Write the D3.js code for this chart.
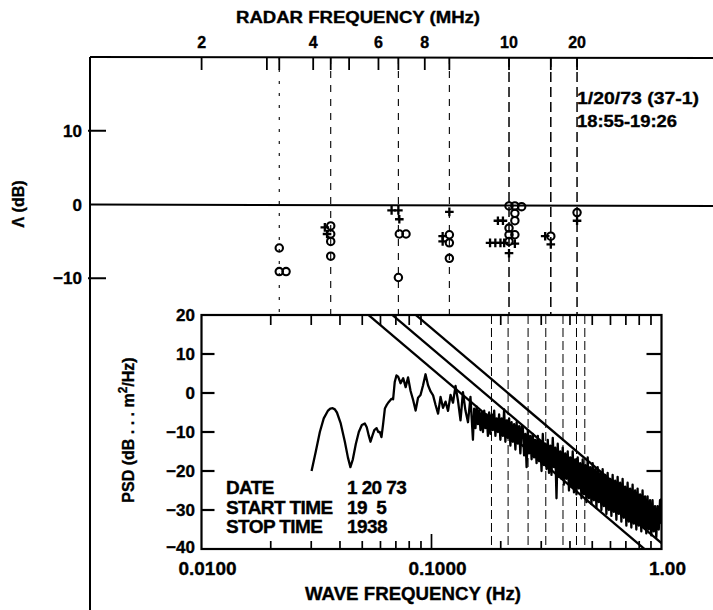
<!DOCTYPE html>
<html><head><meta charset="utf-8">
<script src="https://cdn.jsdelivr.net/npm/d3@7"></script>
<style>
body{margin:0;background:#fff}
svg{display:block}
text{font-family:"Liberation Sans",Arial,Helvetica,sans-serif;font-weight:bold;fill:#000;stroke:#000;stroke-width:0.35px}
</style>
</head><body>
<svg id="c" width="713" height="610"></svg>
<script>
// ---------- data ----------
const radarTickMHz   = [2, 3, 3.24, 4, 4.46, 5, 6, 6.79, 8, 9.32, 13.5, 17.5, 20.6];
const radarLabelMHz  = [2, 4, 6, 8, 13.5, 20.6];
const radarLabelText = ["2", "4", "6", "8", "10", "20"];
const radarLineMHz   = [3.24, 4.46, 6.79, 9.32, 13.5, 17.5, 20.6];
const deltaTicks     = [10, 0, -10];

const circleMHz = [3.24, 3.24, 3.38,  4.46, 4.46, 4.46, 4.46,  6.83, 7.12, 6.79,  9.32, 9.32, 9.32,
                   13.5, 14.0, 14.6, 14.0, 14.0, 13.5, 13.5, 14.0, 13.5,  17.5,  20.6];
const circleDb  = [-5.9, -9.1, -9.1,  -2.9, -4.0, -5.0, -7.0,  -4.0, -4.0, -9.9,  -4.1, -5.2, -7.3,
                   -0.2, -0.2, -0.3, -1.2, -2.2, -3.2, -4.1, -4.1, -5.0,  -4.3,  -1.1];
const plusMHz   = [4.30, 4.36,  6.51, 6.79, 6.83,  9.32, 8.94, 8.94,
                   12.6, 13.0, 12.0, 12.4, 12.8, 13.1, 14.0, 13.5,  16.9, 17.5,  20.6];
const plusDb    = [-3.1, -4.0,  -0.8, -0.8, -2.0,  -1.0, -4.3, -5.0,
                   -2.2, -2.2, -5.2, -5.2, -5.2, -5.2, -5.3, -6.6,  -4.3, -5.4,  -2.2];

const psdTicks      = [20, 10, 0, -10, -20, -30, -40];
const waveMinorHz   = [0.02, 0.03, 0.04, 0.05, 0.06, 0.07, 0.08, 0.09, 0.2, 0.3, 0.4, 0.5, 0.6, 0.7, 0.8, 0.9];
const waveLabelHz   = [0.01, 0.1, 1];
const waveLabelText = ["0.0100", "0.1000", "1.00"];
const waveLineHz    = [0.1823, 0.2153, 0.263, 0.314, 0.373, 0.427, 0.464];
const fitSlopeDbPerDecade = -50;
const fitLevelAt01Hz = [6.3, 11.5, 16.6];

const infoLabels = ["DATE", "START TIME", "STOP TIME"];
const infoValues = ["1 20 73", "19  5", "1938"];

// PSD spectrum [Hz, dB]
const psd = [
 [0.0301,-20],[0.0314,-15],[0.0327,-10],[0.0340,-6.5],[0.0354,-4.6],[0.0363,-4.0],[0.0372,-3.9],[0.0380,-4.2],
 [0.0388,-5.0],[0.0403,-7.8],[0.0420,-12.5],[0.0433,-16.5],[0.0444,-19.0],[0.0455,-17.0],[0.0469,-13.0],
 [0.0483,-10.0],[0.0498,-8.2],[0.0513,-7.8],[0.0523,-8.8],[0.0534,-11.0],[0.0543,-12.5],[0.0553,-11.0],
 [0.0564,-9.5],[0.0577,-9.0],[0.0587,-10.0],[0.0596,-10.0],[0.0606,-11.3],[0.0616,-8.0],[0.0627,-4.0],
 [0.0637,-3.2],[0.0648,-2.5],[0.0659,-2.0],[0.0670,-1.5],[0.0681,-1.6],[0.0692,2.8],[0.0704,4.5],
 [0.0716,4.2],[0.0734,2.5],[0.0753,3.8],[0.0772,1.5],[0.0791,4.0],[0.0811,0.5],[0.0832,-1.8],[0.0853,-4.5],
 [0.0874,-1.2],[0.0896,-0.5],[0.0919,2.0],[0.0942,4.8],[0.0966,2.0],[0.0991,0.4],[0.1016,-0.6],[0.1041,-3.0],
 [0.1068,-5.3],[0.1095,-1.0],[0.1122,-3.8],[0.1151,-2.2],[0.1180,-4.6],[0.1210,-0.5],[0.1240,-2.5],[0.1272,1.8],
 [0.1304,-2.0],[0.1337,-7.0],[0.1370,0.2],[0.1405,-4.5],[0.1441,-7.5],[0.1477,-1.0],
 [0.1514,-12.0],[0.1533,-4.0],[0.1553,-9.0],[0.1572,-3.5],[0.1592,-8.0],[0.1612,-4.5],[0.1632,-9.5],[0.1653,-5.0],
 [0.1674,-10.0],[0.1695,-4.5],[0.1716,-9.0],[0.1737,-5.5],[0.1759,-11.0],[0.1781,-5.0],[0.1804,-10.5],[0.1827,-5.5],
 [0.1850,-9.5],[0.1873,-4.5],[0.1896,-11.0],[0.1920,-6.5],[0.1944,-10.0],[0.1968,-5.5],[0.1993,-12.0],[0.2018,-6.5],
 [0.2044,-11.0],[0.2069,-4.2],[0.2095,-12.5],[0.2122,-7.0],[0.2148,-11.5],[0.2175,-6.5],[0.2203,-13.5],[0.2230,-7.5],
 [0.2258,-12.5],[0.2287,-8.0],[0.2316,-14.5],[0.2345,-7.5],[0.2374,-13.0],[0.2404,-8.5],[0.2434,-15.5],[0.2465,-8.5],
 [0.2496,-9.0],[0.2527,-16.0],[0.2559,-10.5],[0.2591,-19.0],[0.2623,-9.5],[0.2656,-15.5],[0.2690,-11.0],[0.2724,-17.0],
 [0.2758,-10.5],[0.2792,-16.5],[0.2827,-12.0],[0.2863,-18.0],[0.2899,-11.0],[0.2935,-17.5],[0.2972,-12.5],[0.3009,-20.0],
 [0.3047,-10.5],[0.3085,-18.5],[0.3124,-13.0],[0.3163,-19.5],[0.3203,-12.0],[0.3243,-20.5],[0.3284,-13.5],[0.3325,-21.0],
 [0.3367,-11.5],[0.3409,-19.0],[0.3452,-14.0],[0.3495,-27.0],[0.3539,-13.0],[0.3584,-21.5],[0.3629,-15.0],[0.3674,-22.0],
 [0.3720,-14.0],[0.3767,-23.5],[0.3814,-15.5],[0.3862,-22.0],[0.3911,-15.0],[0.3960,-25.0],[0.4010,-16.5],[0.4060,-24.0],
 [0.4111,-15.0],[0.4163,-25.5],[0.4215,-17.0],[0.4268,-26.0],[0.4322,-16.5],[0.4376,-24.5],[0.4431,-18.0],[0.4487,-27.0],
 [0.4543,-17.0],[0.4600,-26.0],[0.4658,-18.5],[0.4717,-28.0],[0.4776,-16.5],[0.4836,-27.0],[0.4897,-19.0],[0.4959,-28.5],
 [0.5021,-18.0],[0.5084,-27.5],[0.5148,-19.5],[0.5213,-29.5],[0.5278,-19.0],[0.5344,-28.0],[0.5411,-20.5],[0.5479,-30.0],
 [0.5548,-19.5],[0.5618,-29.0],[0.5688,-21.0],[0.5760,-31.0],[0.5832,-20.5],[0.5906,-30.0],[0.5980,-22.0],[0.6055,-31.5],
 [0.6131,-21.0],[0.6208,-30.5],[0.6286,-22.5],[0.6365,-32.5],[0.6445,-21.5],[0.6526,-31.0],[0.6608,-23.0],[0.6691,-33.0],
 [0.6775,-22.0],[0.6860,-32.0],[0.6946,-24.0],[0.7034,-34.0],[0.7122,-23.0],[0.7212,-33.0],[0.7302,-24.5],[0.7394,-34.5],
 [0.7487,-23.5],[0.7581,-33.5],[0.7676,-25.0],[0.7773,-35.0],[0.7870,-24.5],[0.7969,-34.0],[0.8069,-26.0],[0.8170,-35.5],
 [0.8273,-25.0],[0.8377,-34.5],[0.8482,-26.5],[0.8589,-36.0],[0.8697,-26.5],[0.8806,-35.0],[0.8917,-27.5],[0.9029,-36.5],
 [0.9142,-27.5],[0.9257,-35.5],[0.9373,-29.0],[0.9491,-37.0],[0.9610,-29.0],[0.9731,-35.0],[0.9853,-27.5],[0.9926,-33.0],
 [1.0,-27.0]
];

// ---------- drawing ----------
const svg = d3.select("#c");

// upper panel scales
const xR = d3.scaleLog().domain([1, 100]).range([90, 831.4]);
const yD = d3.scaleLinear().domain([-20, 20]).range([352, 57]);

// inset scales
const xW = d3.scaleLog().domain([0.01, 1]).range([201.5, 661.5]);
const yP = d3.scaleLinear().domain([-40, 20]).range([549, 315]);

// upper dashed verticals
svg.append("g").selectAll("line").data(radarLineMHz).join("line")
  .attr("x1", d => xR(d)).attr("x2", d => xR(d))
  .attr("y1", yD(20)).attr("y2", yP(20))
  .attr("stroke", "#000")
  .attr("stroke-width", (d, i) => i >= 4 ? 1.5 : 1.1)
  .attr("stroke-dasharray", (d, i) => i === 0 ? "3,9" : (i >= 4 ? "10,5" : "7,7"));

// upper frame: top border, left border, zero line
svg.append("line").attr("x1", xR(1)).attr("x2", 713).attr("y1", yD(20)).attr("y2", yD(20) + 1)
  .attr("stroke", "#000").attr("stroke-width", 2);
svg.append("line").attr("x1", xR(1)).attr("x2", xR(1)).attr("y1", yD(20)).attr("y2", 610)
  .attr("stroke", "#000").attr("stroke-width", 2);
svg.append("line").attr("x1", xR(1)).attr("x2", 713).attr("y1", yD(0)).attr("y2", yD(0) + 1.5)
  .attr("stroke", "#000").attr("stroke-width", 2);

// top axis ticks
svg.append("g").selectAll("line").data(radarTickMHz).join("line")
  .attr("x1", d => xR(d)).attr("x2", d => xR(d))
  .attr("y1", yD(20)).attr("y2", yD(20) + 13)
  .attr("stroke", "#000").attr("stroke-width", 1.8);
svg.append("g").selectAll("text").data(radarLabelMHz).join("text")
  .attr("x", d => xR(d)).attr("y", 48).attr("text-anchor", "middle")
  .style("font-size", "16px").text((d, i) => radarLabelText[i]);
svg.append("text").attr("x", 358).attr("y", 23).attr("text-anchor", "middle")
  .attr("textLength", 244).attr("lengthAdjust", "spacingAndGlyphs")
  .style("font-size", "16px").text("RADAR FREQUENCY (MHz)");

// left axis ticks
svg.append("g").selectAll("line").data(deltaTicks.filter(d => d !== 0)).join("line")
  .attr("x1", xR(1) - 2).attr("x2", xR(1) + 16)
  .attr("y1", d => yD(d)).attr("y2", d => yD(d))
  .attr("stroke", "#000").attr("stroke-width", 2);
svg.append("g").selectAll("text").data(deltaTicks).join("text")
  .attr("x", 82).attr("y", d => yD(d) + 6).attr("text-anchor", "end")
  .style("font-size", "17px").text(d => d < 0 ? "\u2212" + Math.abs(d) : d);
svg.append("text").attr("transform", "translate(24,204) rotate(-90)")
  .attr("text-anchor", "middle").style("font-size", "16px").text("\u039B (dB)");

// annotation
svg.append("text").attr("x", 577).attr("y", 104).style("font-size", "17px")
  .attr("textLength", 122).attr("lengthAdjust", "spacingAndGlyphs").text("1/20/73 (37-1)");
svg.append("text").attr("x", 577).attr("y", 127).style("font-size", "17px")
  .attr("textLength", 100).attr("lengthAdjust", "spacingAndGlyphs").text("18:55-19:26");

// points
svg.append("g").selectAll("circle").data(circleMHz).join("circle")
  .attr("cx", d => xR(d)).attr("cy", (d, i) => yD(circleDb[i])).attr("r", 3.7)
  .attr("fill", "none").attr("stroke", "#000").attr("stroke-width", 2.1);
svg.append("g").selectAll("path").data(plusMHz).join("path")
  .attr("d", (d, i) => {
    const x = xR(d), y = yD(plusDb[i]), s = 4.3;
    return `M${x - s},${y}H${x + s}M${x},${y - s}V${y + s}`;
  })
  .attr("stroke", "#000").attr("stroke-width", 2.3).attr("fill", "none");

// ---------- inset ----------
const inset = svg.append("g");
inset.append("rect").attr("x", xW(0.01)).attr("y", yP(20))
  .attr("width", xW(1) - xW(0.01)).attr("height", yP(-40) - yP(20))
  .attr("fill", "#fff");

svg.append("defs").append("clipPath").attr("id", "ic").append("rect")
  .attr("x", xW(0.01)).attr("y", yP(20))
  .attr("width", xW(1) - xW(0.01)).attr("height", yP(-40) - yP(20));

// dashed verticals
inset.append("g").selectAll("line").data(waveLineHz).join("line")
  .attr("x1", d => xW(d)).attr("x2", d => xW(d))
  .attr("y1", yP(20)).attr("y2", yP(-40))
  .attr("stroke", "#000").attr("stroke-width", 1)
  .attr("stroke-dasharray", "9,4");

// fit lines
const fitG = inset.append("g").attr("clip-path", "url(#ic)");
fitLevelAt01Hz.forEach(level => {
  const pts = [0.01, 1].map(f => [f, level + fitSlopeDbPerDecade * Math.log10(f / 0.1)]);
  fitG.append("path").datum(pts)
    .attr("d", d3.line().x(d => xW(d[0])).y(d => yP(d[1])))
    .attr("fill", "none").attr("stroke", "#000").attr("stroke-width", 2.3);
});

// PSD curve
inset.append("path").datum(psd)
  .attr("clip-path", "url(#ic)")
  .attr("d", d3.line().x(d => xW(d[0])).y(d => yP(d[1])))
  .attr("fill", "none").attr("stroke", "#000").attr("stroke-width", 2.3)
  .attr("stroke-linejoin", "round");

// frame
inset.append("rect").attr("x", xW(0.01)).attr("y", yP(20))
  .attr("width", xW(1) - xW(0.01)).attr("height", yP(-40) - yP(20))
  .attr("fill", "none").attr("stroke", "#000").attr("stroke-width", 2.2);

// y ticks (left and right)
const yt = psdTicks.filter(d => d < 20 && d > -40);
inset.append("g").selectAll("line").data(yt).join("line")
  .attr("x1", xW(0.01)).attr("x2", xW(0.01) + 13)
  .attr("y1", d => yP(d)).attr("y2", d => yP(d))
  .attr("stroke", "#000").attr("stroke-width", 2.2);
inset.append("g").selectAll("line").data(yt).join("line")
  .attr("x1", xW(1) - 15).attr("x2", xW(1))
  .attr("y1", d => yP(d)).attr("y2", d => yP(d))
  .attr("stroke", "#000").attr("stroke-width", 2.2);
inset.append("g").selectAll("text").data(psdTicks).join("text")
  .attr("x", 195).attr("y", d => yP(d) + (d === -40 ? 4 : 6)).attr("text-anchor", "end")
  .style("font-size", "17px").text(d => d < 0 ? "\u2212" + Math.abs(d) : d);

// x ticks top & bottom
inset.append("g").selectAll("line").data(waveMinorHz).join("line")
  .attr("x1", d => xW(d)).attr("x2", d => xW(d))
  .attr("y1", yP(20)).attr("y2", yP(20) + 10)
  .attr("stroke", "#000").attr("stroke-width", 1.7);
inset.append("g").selectAll("line").data(waveMinorHz).join("line")
  .attr("x1", d => xW(d)).attr("x2", d => xW(d))
  .attr("y1", yP(-40)).attr("y2", yP(-40) - 8)
  .attr("stroke", "#000").attr("stroke-width", 1.7);
inset.append("line").attr("x1", xW(0.1)).attr("x2", xW(0.1))
  .attr("y1", yP(-40)).attr("y2", yP(-40) - 15).attr("stroke", "#000").attr("stroke-width", 1.7);
inset.append("g").selectAll("text").data(waveLabelHz).join("text")
  .attr("x", d => xW(d) + 6).attr("y", 575).attr("text-anchor", "middle")
  .style("font-size", "19px").text((d, i) => waveLabelText[i]);
inset.append("text").attr("x", 413).attr("y", 600).attr("text-anchor", "middle")
  .attr("textLength", 216).attr("lengthAdjust", "spacingAndGlyphs")
  .style("font-size", "19px").text("WAVE FREQUENCY (Hz)");

// y label
const yl = inset.append("text").attr("transform", "translate(134,430) rotate(-90)")
  .attr("text-anchor", "middle").style("font-size", "16px");
yl.append("tspan").text("PSD (dB . . . m");
yl.append("tspan").attr("dy", -7).style("font-size", "12px").text("2");
yl.append("tspan").attr("dy", 7).text("/Hz)");

// info text
infoLabels.forEach((t, i) => {
  inset.append("text").attr("x", 226).attr("y", 494 + i * 19.7).style("font-size", "19px")
    .attr("letter-spacing", "-0.6").text(t);
  inset.append("text").attr("x", 347).attr("y", 494 + i * 19.7).style("font-size", "19px")
    .attr("letter-spacing", "-0.6").attr("xml:space", "preserve").style("white-space", "pre").text(infoValues[i]);
});
</script>
</body></html>
